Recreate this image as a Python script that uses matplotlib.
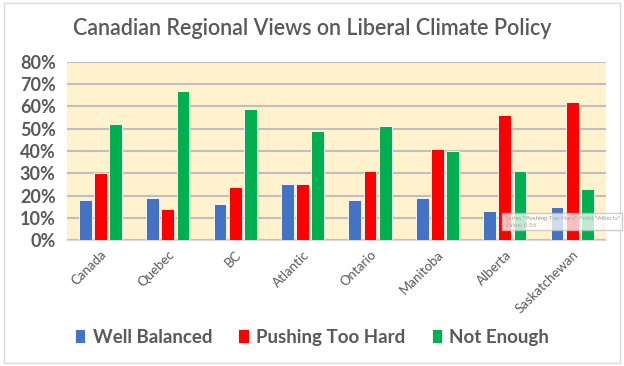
import matplotlib.pyplot as plt
import numpy as np
from matplotlib.patches import Rectangle

regions = ["Canada", "Quebec", "BC", "Atlantic", "Ontario", "Manitoba", "Alberta", "Saskatchewan"]
well_balanced = [18, 19, 16, 25, 18, 19, 13, 15]
pushing_too_hard = [30, 14, 24, 25, 31, 41, 56, 62]
not_enough = [52, 67, 59, 49, 51, 40, 31, 23]
series_names = ["Well Balanced", "Pushing Too Hard", "Not Enough"]
colors = ["#4472C4", "#FF0000", "#00B050"]

plt.rcParams['font.family'] = ['Lato', 'DejaVu Sans']

fig = plt.figure(figsize=(6.24, 3.66), dpi=100)
fig.patches.append(Rectangle((0.006, 0.008), 0.988, 0.984, transform=fig.transFigure,
                             fill=False, edgecolor="#D9D9D9", lw=1))
ax = fig.add_axes([0.107, 0.344, 0.864, 0.487])
ax.set_facecolor("#FFF2CC")

x = np.arange(len(regions))
w = 0.19
step = 0.225
for i, (vals, c) in enumerate(zip([well_balanced, pushing_too_hard, not_enough], colors)):
    ax.bar(x + (i - 1) * step, vals, w, color=c, edgecolor="white", lw=0.6,
           label=series_names[i], zorder=3)

ax.set_ylim(0, 80)
ax.set_xlim(-0.5, len(regions) - 0.5)
ax.set_yticks(range(0, 81, 10))
ax.set_yticklabels([f"{v}%" for v in range(0, 81, 10)], fontsize=13, fontweight="bold", color="#595959")
ax.yaxis.grid(True, color="#BFBFBF", lw=1.5, zorder=1)
ax.tick_params(axis="both", length=0)
ax.tick_params(axis="y", pad=8)
ax.set_xticks(x)
ax.set_xticklabels(regions, rotation=45, ha="right", rotation_mode="anchor", fontsize=9.5, color="#595959")
ax.tick_params(axis="x", pad=6)
for s in ["top", "right", "left"]:
    ax.spines[s].set_visible(False)
ax.spines["bottom"].set_color("#D9D9D9")

fig.text(0.5, 0.922, "Canadian Regional Views on Liberal Climate Policy", ha="center", va="center",
         fontsize=15.5, fontweight="semibold", color="#595959")

fig.legend(loc="center", bbox_to_anchor=(0.5, 0.079), ncol=3, frameon=False,
           prop={"size": 13.5, "weight": "bold"}, labelcolor="#595959",
           handlelength=0.55, handleheight=0.75, handletextpad=0.4, columnspacing=1.4)

# hover tooltip captured in the screenshot
fig.text(0.809, 0.394, 'Series "Pushing Too Hard" Point "Alberta"\nValue: 0.56', fontsize=4.5,
         color="#A6A6A6", ha="left", va="center", linespacing=1.5,
         bbox=dict(boxstyle="square,pad=0.4", fc="white", ec="#BFBFBF", alpha=0.75, lw=1))

fig.savefig("out.png", dpi=100)
